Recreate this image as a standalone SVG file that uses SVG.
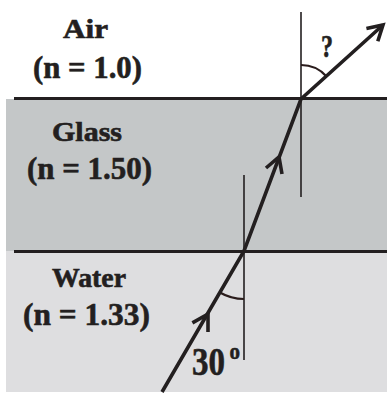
<svg xmlns="http://www.w3.org/2000/svg" width="387" height="394" viewBox="0 0 387 394">
<style>
.t{font-family:"Liberation Serif","Times New Roman",serif;font-weight:bold;fill:#231f20;stroke:#231f20;stroke-width:0.6}
.bd{stroke:#231f20;stroke-width:3.2;fill:none}
.nm{stroke:#231f20;stroke-width:1.6;fill:none}
.ray{stroke:#231f20;stroke-width:3.6;fill:none;stroke-linecap:butt;stroke-linejoin:miter}
.arc{stroke:#2a1c1c;stroke-width:2.2;fill:none}
</style>
<rect width="387" height="394" fill="#ffffff"/>
<g id="glass">
<rect x="6" y="99" width="381" height="152" fill="#c4c7c8"/>
<text class="t" x="52" y="141" font-size="27" textLength="70" lengthAdjust="spacingAndGlyphs">Glass</text>
<text class="t" x="27" y="179" font-size="32" textLength="125" lengthAdjust="spacingAndGlyphs">(n = 1.50)</text>
</g>
<g id="water">
<rect x="6" y="251" width="381" height="141" fill="#dedee0"/>
<text class="t" x="52" y="287" font-size="27" textLength="74" lengthAdjust="spacingAndGlyphs">Water</text>
<text class="t" x="23" y="325" font-size="32" textLength="127" lengthAdjust="spacingAndGlyphs">(n = 1.33)</text>
</g>
<g id="air">
<text class="t" x="63" y="38" font-size="27" textLength="45" lengthAdjust="spacingAndGlyphs">Air</text>
<text class="t" x="33" y="78" font-size="32" textLength="109" lengthAdjust="spacingAndGlyphs">(n = 1.0)</text>
</g>
<g id="boundaries">
<line class="bd" x1="14" y1="98.5" x2="387" y2="98.5"/>
<line class="bd" x1="14" y1="251.5" x2="387" y2="251.5"/>
</g>
<g id="normals">
<line class="nm" x1="301" y1="12" x2="301" y2="197"/>
<line class="nm" x1="244" y1="175" x2="244" y2="360"/>
</g>
<g id="angles">
<path class="arc" d="M301 65 A34 34 0 0 1 326.3 76.2"/>
<path class="arc" d="M244 299 A48 48 0 0 1 219.9 292.5"/>
<text class="t" x="321" y="57" font-size="31" textLength="12" lengthAdjust="spacingAndGlyphs">?</text>
<text class="t" x="192" y="375" font-size="39" textLength="33" lengthAdjust="spacingAndGlyphs">30</text>
<text class="t" x="229.5" y="359" font-size="24" textLength="10.5" lengthAdjust="spacingAndGlyphs">o</text>
</g>
<g id="connectors">
<polyline class="ray" points="162,392 244,251 301,99 383,25"/>
<polyline class="ray" points="192.4,322.9 208,314 208,332"/>
<polyline class="ray" points="266,168 279,157 282,174"/>
<polyline class="ray" points="366.4,28.6 383,25 377.8,41.2"/>
</g>
</svg>
